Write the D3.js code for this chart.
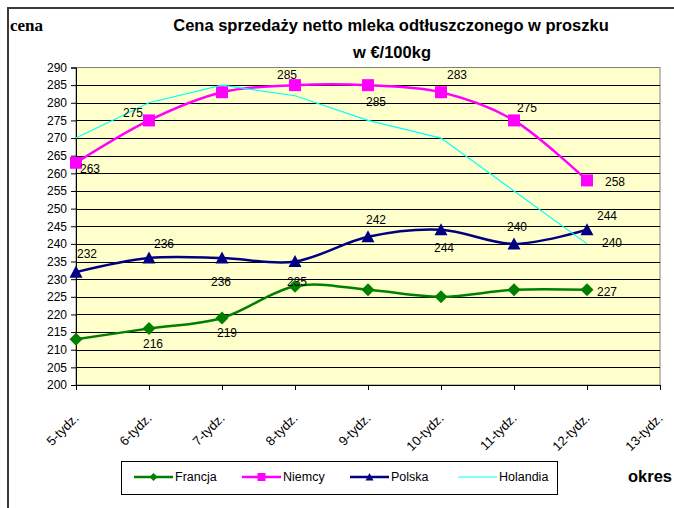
<!DOCTYPE html>
<html>
<head>
<meta charset="utf-8">
<script src="https://cdn.jsdelivr.net/npm/d3@7"></script>
<style>
  body { margin: 0; background: #fff; }
  svg { display: block; font-family: "Liberation Sans", Arial, sans-serif; }
</style>
</head>
<body>
<div id="chart"></div>
<script>
"use strict";

// ---------------------------------------------------------------------------
// Data
// ---------------------------------------------------------------------------

const weeks = ["5-tydz.", "6-tydz.", "7-tydz.", "8-tydz.", "9-tydz.", "10-tydz.", "11-tydz.", "12-tydz.", "13-tydz."];
const yTicks = [200, 205, 210, 215, 220, 225, 230, 235, 240, 245, 250, 255, 260, 265, 270, 275, 280, 285, 290];

const francja  = [213, 216, 219, 228, 227, 225, 227, 227];
const niemcy   = [263, 275, 283, 285, 285, 283, 275, 258];
const polska   = [232, 236, 236, 235, 242, 244, 240, 244];
const holandia = [270, 280, 285, 282, 275, 270, 255, 240];

// label offsets (px from the point), null = no label
const francjaLabels  = [null, [4, 15], [5, 15], null, null, null, null, [20, 2]];
const niemcyLabels   = [[14, 6], [-16, -8], null, [-8, -10], [8, 17], [16, -17], [13, -13], [28, 1]];
const polskaLabels   = [[11, -18], [15, -14], [-1, 24], [2, 20], [8, -17], [3, 18], [3, -17], [20, -14]];
const holandiaLabels = [null, null, null, null, null, null, null, [25, -1]];

// ---------------------------------------------------------------------------
// Layout
// ---------------------------------------------------------------------------

const W = 674, H = 508;
const plot = { left: 76, right: 660, top: 67.5, bottom: 385 };

const svg = d3.select("#chart").append("svg")
  .attr("width", W)
  .attr("height", H);

// outer chart border
svg.append("rect")
  .attr("x", 8).attr("y", 8)
  .attr("width", 700).attr("height", 600)
  .attr("fill", "#fff")
  .attr("stroke", "#3a3a3a")
  .attr("stroke-width", 2);

const x = d3.scalePoint().domain(weeks).range([plot.left, plot.right]).padding(0);
const y = d3.scaleLinear().domain([200, 290]).range([plot.bottom, plot.top]);

// plot background
svg.append("rect")
  .attr("x", plot.left).attr("y", plot.top)
  .attr("width", plot.right - plot.left)
  .attr("height", plot.bottom - plot.top)
  .attr("fill", "#ffffcc")
  .attr("stroke", "#808080")
  .attr("stroke-width", 1);

// gridlines
svg.append("g")
  .selectAll("line")
  .data(yTicks.filter((t) => t > 200 && t < 290))
  .join("line")
  .attr("x1", plot.left).attr("x2", plot.right)
  .attr("y1", (d) => Math.round(y(d)) + 0.5)
  .attr("y2", (d) => Math.round(y(d)) + 0.5)
  .attr("stroke", "#000")
  .attr("stroke-width", 1);

// y axis
const yAxis = svg.append("g")
  .attr("transform", `translate(${plot.left},0)`)
  .call(d3.axisLeft(y).tickValues(yTicks).tickSize(5).tickPadding(4));
yAxis.selectAll("text")
  .attr("font-size", "12px")
  .attr("font-family", "Liberation Sans, Arial, sans-serif")
  .attr("fill", "#000");
yAxis.selectAll("line, path").attr("stroke", "#000");

// x axis
const xAxis = svg.append("g")
  .attr("transform", `translate(0,${plot.bottom})`)
  .call(d3.axisBottom(x).tickSize(5).tickSizeOuter(0));
xAxis.selectAll("line, path").attr("stroke", "#000");
xAxis.selectAll("text")
  .attr("font-size", "13px")
  .attr("font-family", "Liberation Sans, Arial, sans-serif")
  .attr("fill", "#000")
  .attr("text-anchor", "end")
  .attr("y", 0).attr("dy", 0)
  .attr("transform", "translate(3,34) rotate(-45)");

// ---------------------------------------------------------------------------
// Series
// ---------------------------------------------------------------------------

const series = [
  { name: "Francja",  values: francja,  labels: francjaLabels,  color: "#008000", width: 2.5, marker: "diamond", smooth: true },
  { name: "Niemcy",   values: niemcy,   labels: niemcyLabels,   color: "#ff00ff", width: 2.5, marker: "square",  smooth: true },
  { name: "Polska",   values: polska,   labels: polskaLabels,   color: "#000080", width: 2.5, marker: "triangle", smooth: true },
  { name: "Holandia", values: holandia, labels: holandiaLabels, color: "#00ffff", width: 1.2, marker: null,      smooth: false },
];

function markerPath(type, s) {
  if (type === "diamond") return `M0,${-s}L${s},0L0,${s}L${-s},0Z`;
  if (type === "square") return `M${-s},${-s}H${s}V${s}H${-s}Z`;
  if (type === "triangle") return `M0,${-s}L${s},${s * 0.85}L${-s},${s * 0.85}Z`;
  return "";
}

const markerSize = { diamond: 6.5, square: 6, triangle: 6.5 };

series.forEach((s) => {
  const pts = s.values.map((v, i) => [x(weeks[i]), y(v)]);
  const line = d3.line().curve(s.smooth ? d3.curveCardinal.tension(0) : d3.curveLinear);

  svg.append("path")
    .attr("d", line(pts))
    .attr("fill", "none")
    .attr("stroke", s.color)
    .attr("stroke-width", s.width);

  if (s.marker) {
    svg.append("g")
      .selectAll("path")
      .data(pts)
      .join("path")
      .attr("transform", (d) => `translate(${d[0]},${d[1]})`)
      .attr("d", markerPath(s.marker, markerSize[s.marker]))
      .attr("fill", s.color);
  }
});

// data labels drawn last so they sit on top
series.forEach((s) => {
  svg.append("g")
    .selectAll("text")
    .data(s.values.map((v, i) => ({ v, i, off: s.labels[i] })).filter((d) => d.off))
    .join("text")
    .attr("x", (d) => x(weeks[d.i]) + d.off[0])
    .attr("y", (d) => y(d.v) + d.off[1])
    .attr("dy", "0.35em")
    .attr("text-anchor", "middle")
    .attr("font-size", "12px")
    .attr("fill", "#000")
    .text((d) => d.v);
});

// ---------------------------------------------------------------------------
// Titles
// ---------------------------------------------------------------------------

svg.append("text")
  .attr("x", 391).attr("y", 31)
  .attr("text-anchor", "middle")
  .attr("font-size", "16.5px")
  .attr("font-weight", "bold")
  .text("Cena sprzedaży netto mleka odtłuszczonego w proszku");

svg.append("text")
  .attr("x", 392).attr("y", 58)
  .attr("text-anchor", "middle")
  .attr("font-size", "16.5px")
  .attr("font-weight", "bold")
  .text("w €/100kg");

svg.append("text")
  .attr("x", 10).attr("y", 31)
  .attr("font-family", "Liberation Serif, Times New Roman, serif")
  .attr("font-size", "17px")
  .attr("font-weight", "bold")
  .text("cena");

svg.append("text")
  .attr("x", 628).attr("y", 482)
  .attr("font-size", "16.5px")
  .attr("font-weight", "bold")
  .text("okres");

// ---------------------------------------------------------------------------
// Legend
// ---------------------------------------------------------------------------

const legend = svg.append("g");
legend.append("rect")
  .attr("x", 121.5).attr("y", 461.5)
  .attr("width", 436).attr("height", 33)
  .attr("fill", "#fff")
  .attr("stroke", "#000")
  .attr("stroke-width", 1);

series.forEach((s, i) => {
  const gx = 134 + i * 108;
  const gy = 477;
  const g = legend.append("g").attr("transform", `translate(${gx},${gy})`);
  g.append("line")
    .attr("x1", 0).attr("x2", 39)
    .attr("stroke", s.color)
    .attr("stroke-width", s.width);
  if (s.marker) {
    g.append("path")
      .attr("transform", "translate(19.5,0)")
      .attr("d", markerPath(s.marker, 4))
      .attr("fill", s.color);
  }
  g.append("text")
    .attr("x", 41).attr("dy", "0.35em")
    .attr("font-size", "12.5px")
    .attr("fill", "#000")
    .text(s.name);
});
</script>
</body>
</html>
